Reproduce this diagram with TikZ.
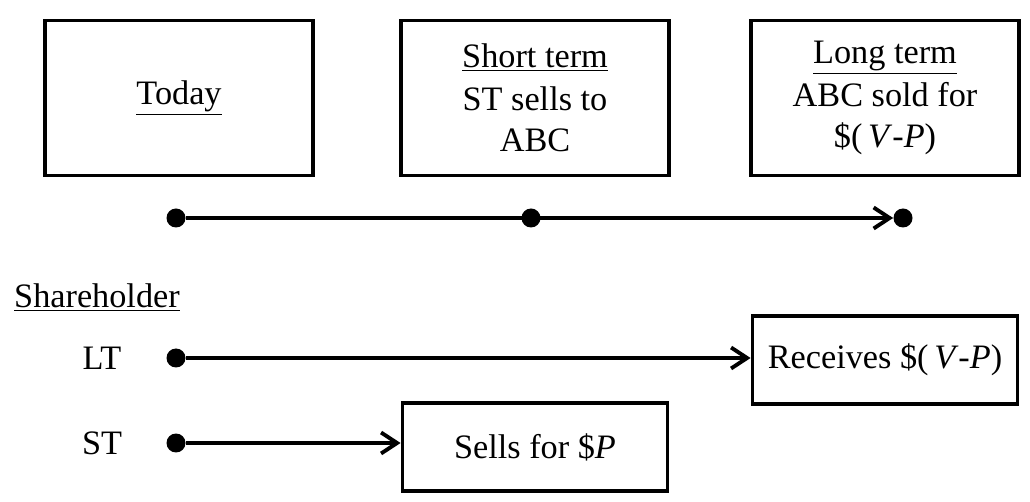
\documentclass[tikz,border=0pt]{standalone}
\usepackage{fontspec}
\setmainfont{Liberation Serif}
\usetikzlibrary{arrows.meta}

\tikzset{
  stagebox/.style={draw, line width=2.2pt, minimum width=5.35cm, minimum height=3.1cm,
    align=center, inner sep=2pt},
  actbox/.style={draw, line width=2.2pt, minimum width=5.3cm, minimum height=1.75cm,
    align=center, inner sep=2pt},
  tdot/.style={circle, fill, inner sep=0pt, minimum size=0.38cm},
  flow/.style={line width=2.2pt, -{Straight Barb[length=0.32cm,width=0.42cm,line width=2.2pt]}}
}

\begin{document}
\begin{tikzpicture}[x=0.02cm, y=-0.02cm, font=\fontsize{19.5}{23.5}\selectfont]
  \useasboundingbox (0,0) rectangle (1030,502);

  % stages
  \node[stagebox] (today) at (179,98) {\underline{Today}};
  \node[stagebox] (short) at (535,98) {\underline{Short term}\\[1pt]ST sells to\\ABC};
  \node[stagebox] (long) at (885,98) {\underline{Long term}\\[1pt]ABC sold for\\\$(\,\textit{V}-\textit{P})};

  % time line
  \node[tdot] (t0) at (176,218) {};
  \node[tdot] (t1) at (531,218) {};
  \node[tdot] (t2) at (903,218) {};
  \draw[flow] (t0) -- (t2);

  % shareholders
  \node[anchor=west] (holder) at (8,298) {\underline{Shareholder}};
  \node (lt) at (102,358) {LT};
  \node (st) at (102,443) {ST};
  \node[tdot] (ltdot) at (176,358) {};
  \node[tdot] (stdot) at (176,443) {};

  \node[actbox] (recv) at (885,360) {Receives \$(\,\textit{V}-\textit{P})};
  \node[actbox] (sells) at (535,447) {Sells for \$\textit{P}};

  \draw[flow] (ltdot) -- (ltdot -| recv.west);
  \draw[flow] (stdot) -- (stdot -| sells.west);
\end{tikzpicture}
\end{document}
